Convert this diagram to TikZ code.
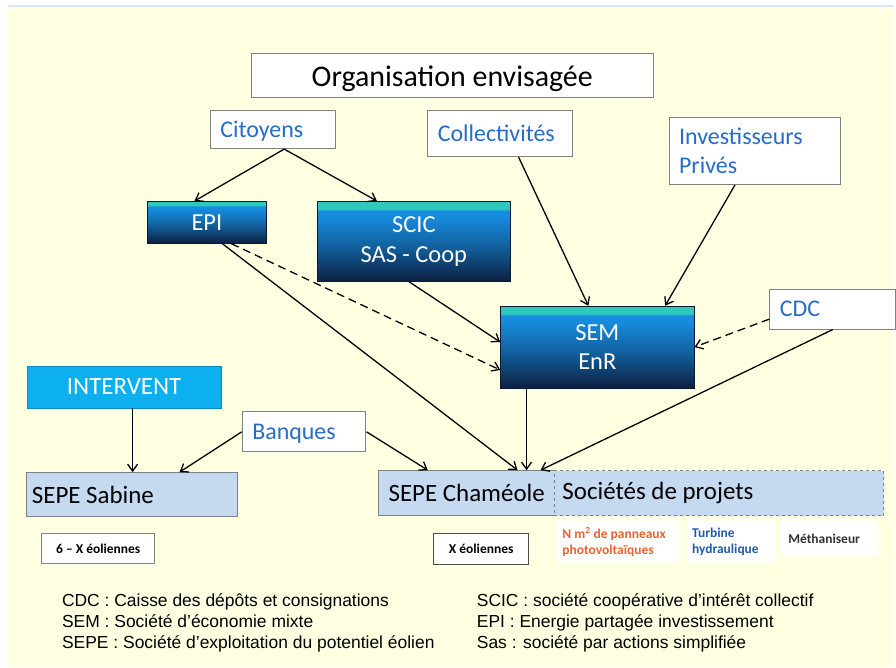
\documentclass[tikz,border=0pt]{standalone}
\usepackage{fontspec}
\setmainfont{Carlito}
\newfontfamily\legendfont{Liberation Sans}
\usetikzlibrary{arrows.meta}

\definecolor{bgyellow}{RGB}{255,255,226}
\definecolor{topline}{RGB}{218,230,246}
\definecolor{boxline}{RGB}{128,128,128}
\definecolor{txtblue}{RGB}{38,108,200}
\definecolor{txtorange}{RGB}{232,100,48}
\definecolor{sepefill}{RGB}{197,217,241}
\definecolor{intvfill}{RGB}{12,176,238}
\definecolor{gtop}{RGB}{48,200,190}
\definecolor{gmid}{RGB}{22,140,222}
\definecolor{gbot}{RGB}{12,32,64}

% the box is fitted into 25bp..75bp of the shading
\pgfdeclareverticalshading{entshade}{100bp}{color(0bp)=(gbot); color(25bp)=(gbot);
  color(47bp)=(gmid!60!gbot); color(66bp)=(gmid); color(69bp)=(gmid); color(70.5bp)=(gtop);
  color(75bp)=(gtop); color(100bp)=(gtop)}

\begin{document}
\begin{tikzpicture}[x=1pt,y=-1pt,
    whitebox/.style={draw=boxline,line width=1pt,fill=white,inner sep=0pt,text depth=0pt},
    actor/.style={whitebox,text=txtblue,font=\fontsize{24}{29}\selectfont,
      align=flush left,inner xsep=10pt},
    entity/.style={draw=gbot!80!black,line width=0.8pt,shading=entshade,text=white,
      font=\fontsize{24.5}{30}\selectfont,align=center,inner sep=0pt},
    sepe/.style={draw=boxline,line width=1pt,fill=sepefill,inner sep=0pt,
      font=\fontsize{25}{30}\selectfont},
    smallbox/.style={fill=white,inner sep=0pt,font=\fontsize{13.5}{16}\selectfont\bfseries,
      align=flush left},
    link/.style={line width=1.3pt,-{Straight Barb[length=7pt,width=10pt]}},
    dashlink/.style={link,dash pattern=on 8pt off 5pt}
    ]

    % background
    \fill[white] (0,0) rectangle (896,669);
    \fill[bgyellow] (8,7) rectangle (896,669);
    \fill[topline] (8,5) rectangle (896,7.5);

    % title
    \node(org) [whitebox,minimum width=403,minimum height=44,
      font=\fontsize{30}{34}\selectfont] at (453.5,76) {Organisation envisagée};

    % actors
    \node(cit) [actor,text width=105,minimum height=38] at (273.5,130) {Citoyens};
    \node(coll) [actor,text width=125,minimum height=46] at (501.5,134) {Collectivités};
    \node(inv) [actor,text depth=,text width=152,minimum height=67] at (757,151.5) {Investisseurs\\Privés};
    \node(cdc) [actor,text width=106,minimum height=40] at (835,310) {CDC};
    \node(banq) [actor,text width=104,minimum height=40] at (305,433) {Banques};

    % structures
    \node(epi) [entity,minimum width=119,minimum height=42] at (207.5,223) {EPI};
    \node(scic) [entity,minimum width=194,minimum height=80] at (415,242) {SCIC\\SAS - Coop};
    \node(sem) [entity,minimum width=194,minimum height=82] at (599,348) {SEM\\EnR};
    \node(intv) [draw=intvfill!80!black,line width=0.6pt,fill=intvfill,text=white,
      minimum width=195,minimum height=42,font=\fontsize{25}{30}\selectfont] at (124.5,388) {INTERVENT};

    % SEPE
    \node(sab) [sepe,text width=201,inner xsep=5pt,minimum height=44,align=flush left]
      at (132.5,496) {SEPE Sabine};
    \node(cham) [sepe,minimum width=176,minimum height=45] at (468,494.5) {SEPE Chaméole};
    \node(proj) [sepe,dashed,text width=314,inner xsep=8pt,minimum height=45,align=flush left]
      at (721,494.5) {Sociétés de projets};

    % installations
    \node(eol6) [smallbox,draw=boxline,line width=1pt,minimum width=113,minimum height=30,align=center]
      at (98.5,550) {6 -- X éoliennes};
    \node(eolx) [smallbox,draw=black!70,line width=1pt,minimum width=95,minimum height=31,align=center]
      at (482.5,550.5) {X éoliennes};
    \node(pv) [smallbox,text=txtorange,text width=112,inner xsep=5pt,minimum height=43] at (620,543.5)
      {N m\textsuperscript{2} de panneaux\\photovoltaïques};
    \node(turb) [smallbox,text=txtblue!85!black,text width=78,inner xsep=5pt,minimum height=43]
      at (733,543.5) {Turbine\\hydraulique};
    \node(meth) [smallbox,text=black!80,text width=82,inner xsep=8pt,minimum height=36] at (831.5,540)
      {Méthaniseur\\[10pt]};

    % legend
    \node(legl) [anchor=north west,inner sep=0pt,align=flush left,
      font=\legendfont\fontsize{17.5}{21}\selectfont] at (62,595)
      {CDC : Caisse des dépôts et consignations\\
       SEM : Société d’économie mixte\\
       SEPE : Société d’exploitation du potentiel éolien};
    \node(legr) [anchor=north west,inner sep=0pt,align=flush left,
      font=\legendfont\fontsize{17.5}{21}\selectfont] at (478,595)
      {SCIC : société coopérative d’intérêt collectif\\
       EPI : Energie partagée investissement\\
       Sas : société par actions simplifiée};

    % links
    \draw[link] ([xshift=11.5pt]cit.south) -- ([xshift=-12.5pt]epi.north);
    \draw[link] ([xshift=11.5pt]cit.south) -- ([xshift=-37pt]scic.north);
    \draw[link] ([xshift=18.5pt]coll.south) -- ([xshift=-9pt]sem.north);
    \draw[link] ([xshift=-20pt]inv.south) -- ([xshift=68pt]sem.north);
    \draw[link] ([xshift=-5pt]scic.south) -- ([yshift=5pt]sem.west);
    \draw[dashlink] ([xshift=24.5pt]epi.south) -- ([yshift=-23pt]sem.west);
    \draw[dashlink] ([yshift=-10pt]cdc.west) -- (sem.east);
    \draw[link] ([xshift=15.5pt]epi.south) -- ([xshift=51pt]cham.north);
    \draw[link] ([xshift=-71pt]sem.south) -- ([xshift=60pt]cham.north);
    \draw[link] (cdc.south) -- ([xshift=74pt]cham.north);
    \draw[link] ([xshift=8.5pt]intv.south) -- ([xshift=0.5pt]sab.north);
    \draw[link] (banq.west) -- ([xshift=47.5pt]sab.north);
    \draw[link] (banq.east) -- ([xshift=-39pt]cham.north);

  \end{tikzpicture}
\end{document}
